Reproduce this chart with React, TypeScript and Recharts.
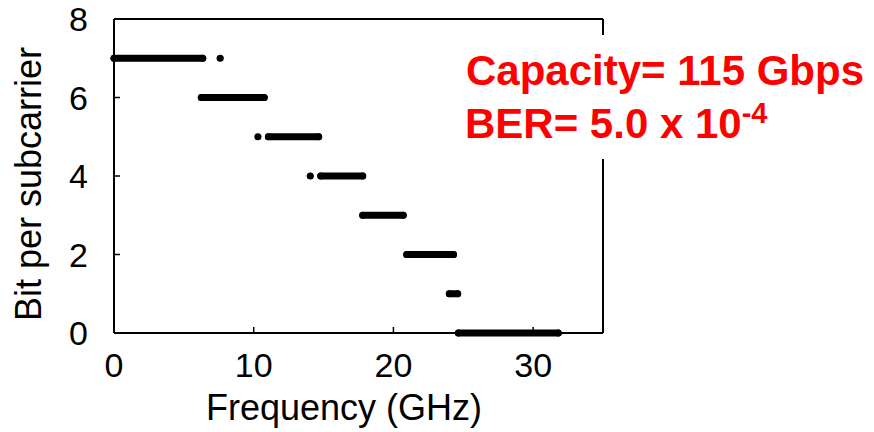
import { ComposedChart, Line, Scatter, XAxis, YAxis, ReferenceLine, Label } from 'recharts';

// bit loading per subcarrier (GHz ranges of each plateau)
const levels = [7, 6, 5, 4, 3, 2, 1, 0];
const segStart = [0, 6.25, 11.05, 14.8, 17.8, 20.95, 24.0, 24.65];
const segEnd = [6.35, 10.75, 14.65, 17.8, 20.7, 24.3, 24.6, 31.8];

// stray subcarriers sitting off their plateau
const dotFreq = [7.6, 10.3, 14.05];
const dotBits = [7, 5, 4];

const xTicks = [0, 10, 20, 30];
const yTicks = [0, 2, 4, 6, 8];

const segments = levels.map((b, i) => [
    { f: segStart[i], b },
    { f: segEnd[i], b },
]);
const strays = dotFreq.map((f, i) => ({ f, b: dotBits[i] }));

const font = '"Liberation Sans", Arial, sans-serif';

const Dot = (props: any) => <circle cx={props.cx} cy={props.cy} r={3.6} fill="#000" />;

export default function App() {
    return (
        <div style={{ position: 'absolute', left: 0, top: 0, width: 874, height: 432, background: '#fff', fontFamily: font }}>
            <ComposedChart width={874} height={432} margin={{ top: 19, right: 271, bottom: 0, left: 0 }}>
                <XAxis
                    type="number"
                    dataKey="f"
                    domain={[0, 35]}
                    ticks={xTicks}
                    height={99}
                    tickSize={-6}
                    tickMargin={26}
                    axisLine={{ stroke: '#000', strokeWidth: 2 }}
                    tickLine={{ stroke: '#000', strokeWidth: 1.5 }}
                    tick={{ fill: '#000', fontSize: 34, fontFamily: font }}
                >
                    <Label value="Frequency (GHz)" position="center" dx={-14.5} dy={24.5} fill="#000" fontSize={36} fontFamily={font} />
                </XAxis>
                <YAxis
                    type="number"
                    dataKey="b"
                    domain={[0, 8]}
                    ticks={yTicks}
                    width={114}
                    tickSize={-6}
                    tickMargin={32}
                    axisLine={{ stroke: '#000', strokeWidth: 2 }}
                    tickLine={{ stroke: '#000', strokeWidth: 1.5 }}
                    tick={{ fill: '#000', fontSize: 34, fontFamily: font }}
                >
                    <Label value="Bit per subcarrier" position="center" angle={-90} dx={-28.5} dy={8} fill="#000" fontSize={36} fontFamily={font} />
                </YAxis>
                <ReferenceLine y={8} stroke="#000" strokeWidth={2} />
                <ReferenceLine x={35} stroke="#000" strokeWidth={2} />
                {segments.map((seg, i) => (
                    <Line
                        key={`seg-${i}`}
                        data={seg}
                        dataKey="b"
                        type="linear"
                        stroke="#000"
                        strokeWidth={7}
                        strokeLinecap="round"
                        dot={{ r: 3.5, fill: '#000', stroke: 'none', strokeWidth: 0 }}
                        activeDot={false}
                        isAnimationActive={false}
                    />
                ))}
                <Scatter data={strays} dataKey="b" shape={Dot} isAnimationActive={false} />
            </ComposedChart>
            <svg width={874} height={432} style={{ position: 'absolute', left: 0, top: 0, pointerEvents: 'none' }}>
                <rect x={460} y={35} width={414} height={124} fill="#fff" />
                <text x={466} y={85} fill="#ff0000" fontSize={42} fontWeight="bold" fontFamily={font}>
                    Capacity= 115 Gbps
                </text>
                <text x={465} y={138} fill="#ff0000" fontSize={42} fontWeight="bold" fontFamily={font}>
                    BER= 5.0 x 10
                    <tspan fontSize={29} dy={-15}>-4</tspan>
                </text>
            </svg>
        </div>
    );
}
